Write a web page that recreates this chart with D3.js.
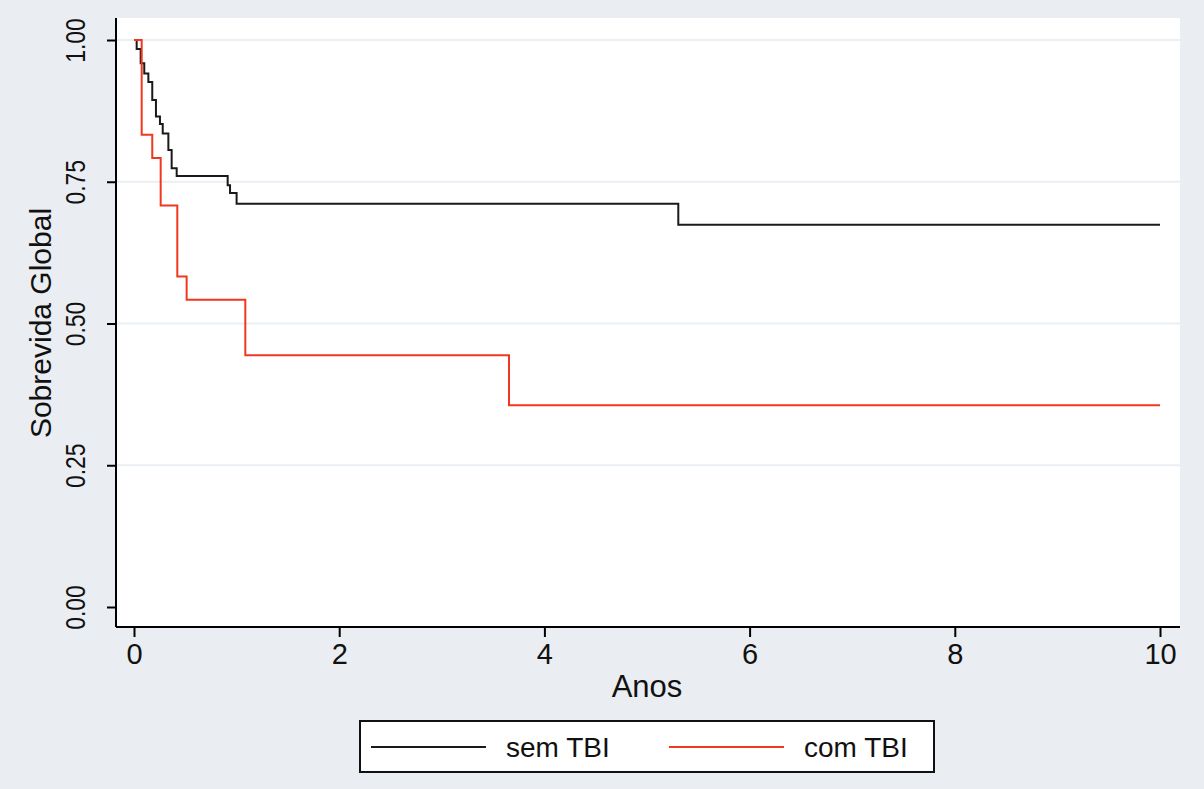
<!DOCTYPE html>
<html>
<head>
<meta charset="utf-8">
<script src="https://cdn.jsdelivr.net/npm/d3@7"></script>
<style>
  html, body { margin: 0; padding: 0; background: #eaedf2; }
  text { font-family: "Liberation Sans", Arial, sans-serif; fill: #111; }
</style>
</head>
<body>
<script>
// Kaplan-Meier steps
var semTime = [0, 0.026, 0.065, 0.10, 0.14, 0.178, 0.214, 0.253, 0.28, 0.335, 0.367, 0.416, 0.913, 0.936, 1.0, 5.305, 10];
var semSurv = [1.0, 0.984, 0.959, 0.941, 0.926, 0.894, 0.865, 0.852, 0.835, 0.806, 0.774, 0.760, 0.744, 0.730, 0.711, 0.674, 0.674];
var comTime = [0, 0.075, 0.178, 0.26, 0.422, 0.513, 1.085, 3.655, 10];
var comSurv = [1.0, 0.833, 0.792, 0.708, 0.583, 0.542, 0.444, 0.356, 0.356];
var xTicks = [0, 2, 4, 6, 8, 10];
var yTicks = [0, 0.25, 0.5, 0.75, 1];
var legendLabels = ["sem TBI", "com TBI"];
var seriesColors = ["#1a1a1a", "#f0381f"];

function main() {
  var width = 1204, height = 789;

  var svg = d3.select("body").append("svg")
    .attr("width", width)
    .attr("height", height);

  svg.append("rect")
    .attr("width", width).attr("height", height)
    .attr("fill", "#eaedf2");

  // plot region
  var px0 = 116, px1 = 1180, py0 = 18, py1 = 627;
  svg.append("rect")
    .attr("x", px0).attr("y", py0)
    .attr("width", px1 - px0).attr("height", py1 - py0)
    .attr("fill", "#fff");

  var x = d3.scaleLinear().domain([0, 10]).range([134, 1160]);
  var y = d3.scaleLinear().domain([0, 1]).range([607, 40]);

  // grid lines
  svg.selectAll(".grid").data(yTicks.filter(function(d) { return d > 0; }))
    .enter().append("line")
    .attr("x1", px0).attr("x2", px1)
    .attr("y1", function(d) { return y(d); })
    .attr("y2", function(d) { return y(d); })
    .attr("stroke", "#eaeff4")
    .attr("stroke-width", 2);

  // y axis
  var gy = svg.append("g")
    .attr("transform", "translate(" + px0 + ",0)")
    .call(d3.axisLeft(y).tickValues(yTicks).tickSize(9).tickFormat(d3.format(".2f")));
  gy.select(".domain").attr("d", "M0," + py0 + "V" + py1).attr("stroke", "#000").attr("stroke-width", 2);
  gy.selectAll(".tick line").attr("stroke", "#000").attr("stroke-width", 2);
  gy.selectAll(".tick text")
    .attr("x", null).attr("dy", null)
    .attr("text-anchor", "middle")
    .attr("transform", "translate(-41,0) rotate(-90) scale(0.82,1)")
    .attr("dy", "0.36em")
    .style("font-size", "28px")
    .style("font-family", "'Liberation Sans', Arial, sans-serif")
    .attr("fill", "#111");

  // x axis
  var gx = svg.append("g")
    .attr("transform", "translate(0," + py1 + ")")
    .call(d3.axisBottom(x).tickValues(xTicks).tickSize(10).tickFormat(d3.format("d")));
  gx.select(".domain").attr("d", "M" + px0 + ",0H" + px1).attr("stroke", "#000").attr("stroke-width", 2);
  gx.selectAll(".tick line").attr("stroke", "#000").attr("stroke-width", 2);
  gx.selectAll(".tick text")
    .attr("y", 16)
    .attr("dy", "0.71em")
    .style("font-size", "29px")
    .style("font-family", "'Liberation Sans', Arial, sans-serif")
    .attr("fill", "#111");

  // axis titles
  svg.append("text")
    .attr("x", 647).attr("y", 697)
    .attr("text-anchor", "middle")
    .style("font-size", "31px")
    .text("Anos");

  svg.append("text")
    .attr("transform", "translate(51,323) rotate(-90)")
    .attr("text-anchor", "middle")
    .style("font-size", "30px")
    .text("Sobrevida Global");

  // survival curves
  var line = d3.line()
    .x(function(d) { return x(d[0]); })
    .y(function(d) { return y(d[1]); })
    .curve(d3.curveStepAfter);

  var series = [d3.zip(semTime, semSurv), d3.zip(comTime, comSurv)];
  svg.selectAll(".km").data(series).enter().append("path")
    .attr("d", line)
    .attr("fill", "none")
    .attr("stroke", function(d, i) { return seriesColors[i]; })
    .attr("stroke-width", 2);

  // legend
  svg.append("rect")
    .attr("x", 360).attr("y", 721)
    .attr("width", 574).attr("height", 51)
    .attr("fill", "#fff")
    .attr("stroke", "#111")
    .attr("stroke-width", 2);

  var legX = [371, 669];
  legendLabels.forEach(function(lab, i) {
    svg.append("line")
      .attr("x1", legX[i]).attr("x2", legX[i] + 115)
      .attr("y1", 747).attr("y2", 747)
      .attr("stroke", seriesColors[i])
      .attr("stroke-width", 2);
    svg.append("text")
      .attr("x", legX[i] + 135).attr("y", 757)
      .style("font-size", "28px")
      .text(lab);
  });
}

main();
</script>
</body>
</html>
